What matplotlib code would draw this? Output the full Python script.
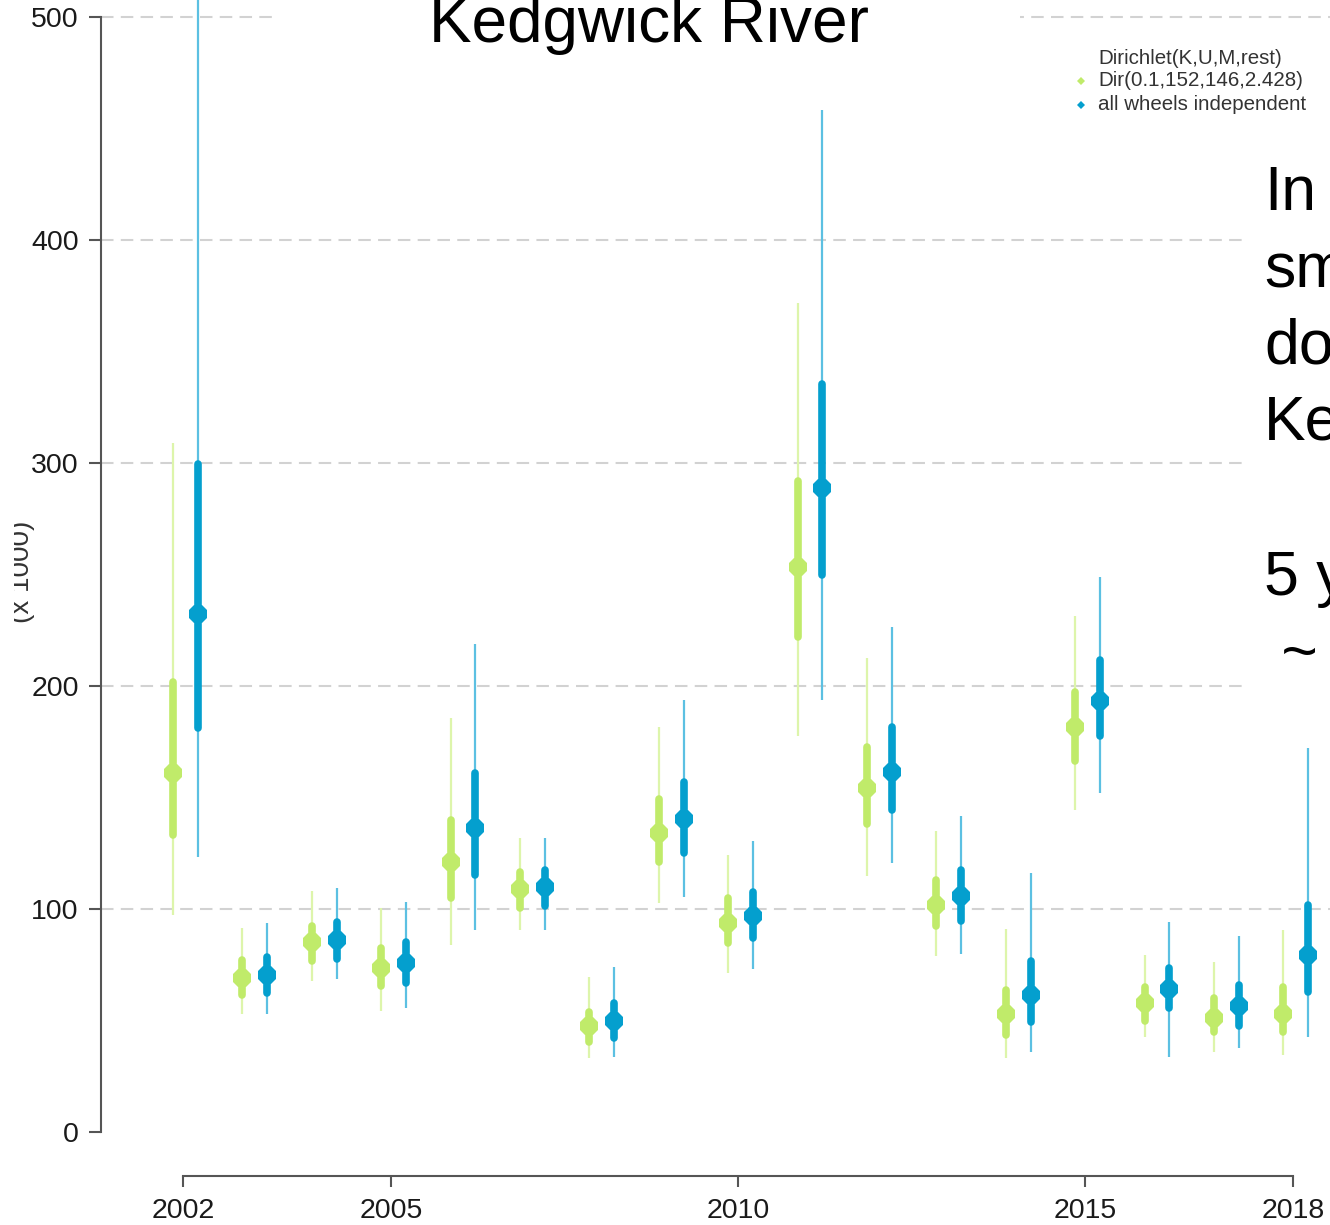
import matplotlib
matplotlib.use("Agg")
import matplotlib.pyplot as plt
from matplotlib.patches import Rectangle

plt.rcParams["font.family"] = ["Liberation Sans", "DejaVu Sans"]

# ---- data (thousands of fish) -------------------------------------------
years = list(range(2002, 2019))

# Dirichlet prior Dir(0.1,152,146,2.428): median, inner and outer intervals
dir_med = [161.0, 69.0, 85.2, 73.5, 121.0, 109.1, 47.5, 134.0, 93.7, 253.3,
           154.3, 102.0, 52.7, 181.5, 57.8, 51.0, 52.9]
dir_in_lo = [133.2, 61.4, 76.7, 65.5, 104.9, 100.4, 40.4, 121.0, 84.8, 222.0,
             138.0, 92.2, 43.4, 166.4, 50.0, 44.8, 44.8]
dir_in_hi = [201.8, 77.0, 92.4, 82.5, 139.9, 116.8, 53.8, 149.3, 104.9, 292.1,
             172.7, 113.1, 63.9, 197.5, 65.0, 60.0, 65.0]
dir_out_lo = [97.3, 53.0, 67.7, 54.3, 84.0, 90.8, 33.2, 102.7, 71.3, 177.4,
              115.0, 79.0, 33.3, 144.5, 42.6, 35.9, 34.5]
dir_out_hi = [309.0, 91.5, 108.0, 100.4, 185.8, 131.7, 69.5, 181.6, 124.2, 371.7,
              212.4, 135.1, 91.0, 231.3, 79.4, 76.2, 90.6]

# all wheels independent: median, inner and outer intervals
ind_med = [232.3, 70.4, 86.1, 75.8, 136.2, 109.7, 49.8, 140.4, 96.9, 289.0,
           161.6, 105.7, 61.6, 193.4, 64.0, 56.5, 79.4]
ind_in_lo = [181.2, 62.3, 77.6, 66.8, 115.4, 101.2, 42.2, 125.0, 87.0, 249.6,
             144.5, 94.8, 49.4, 177.8, 55.6, 47.5, 62.8]
ind_in_hi = [299.6, 78.5, 94.2, 85.2, 160.8, 117.6, 57.8, 157.0, 107.6, 335.5,
             181.7, 117.6, 76.6, 211.6, 73.5, 66.0, 101.8]
ind_out_lo = [123.3, 53.0, 68.6, 55.6, 90.8, 90.8, 33.6, 105.4, 73.0, 193.8,
              120.5, 79.9, 36.0, 151.9, 33.5, 37.7, 42.6]
ind_out_hi = [560.0, 93.7, 109.4, 103.0, 218.9, 131.7, 74.0, 193.7, 130.5, 458.3,
              226.4, 141.9, 116.1, 248.7, 94.2, 87.9, 172.2]

x_ticks = [2002, 2005, 2010, 2015, 2018]
y_ticks = [0, 100, 200, 300, 400, 500]
legend_title = "Dirichlet(K,U,M,rest)"
legend_labels = ["Dir(0.1,152,146,2.428)", "all wheels independent"]

# ---- styling -------------------------------------------------------------
GREEN, GREEN_LIGHT = "#c0eb6a", "#ddf5ab"
BLUE, BLUE_LIGHT = "#049fce", "#5cc0e2"
AXIS_COL = "#555555"
W, H = 1330, 1225

fig = plt.figure(figsize=(W / 100, H / 100), dpi=100)
ax = fig.add_axes([101 / W, 1 - 1176 / H, (W - 101) / W, 1176 / H])
ax.set_xlim(2002 - 82 / 69.4, 2002 + (W - 183) / 69.4)
ax.set_ylim((1132 - 1176) / 2.23, 1132 / 2.23)

# dashed horizontal grid
ax.hlines(y_ticks[1:], *ax.get_xlim(), colors="#d2d2d2", linewidth=1.5,
          linestyles=(0, (6, 3.5)), zorder=0)


def draw_series(xs, med, in_lo, in_hi, out_lo, out_hi, col, col_light):
    ax.vlines(xs, out_lo, out_hi, colors=col_light, linewidth=1.6, zorder=2)
    thick = ax.vlines(xs, in_lo, in_hi, colors=col, linewidth=5.5, zorder=3)
    thick.set_capstyle("round")
    ax.plot(xs, med, linestyle="none", marker="8", markersize=14,
            color=col, markeredgewidth=0, zorder=4)


draw_series([y - 0.145 for y in years], dir_med, dir_in_lo, dir_in_hi,
            dir_out_lo, dir_out_hi, GREEN, GREEN_LIGHT)
draw_series([y + 0.213 for y in years], ind_med, ind_in_lo, ind_in_hi,
            ind_out_lo, ind_out_hi, BLUE, BLUE_LIGHT)

# R-style detached axes
for side in ("top", "right"):
    ax.spines[side].set_visible(False)
for side in ("left", "bottom"):
    ax.spines[side].set_color(AXIS_COL)
    ax.spines[side].set_linewidth(1.5)
ax.spines["left"].set_bounds(0, 500)
ax.spines["bottom"].set_bounds(2002, 2018)
ax.set_xticks(x_ticks)
ax.set_yticks(y_ticks)
ax.tick_params(axis="both", colors=AXIS_COL, width=1.5, labelsize=20.5,
               labelcolor="#1a1a1a")
ax.tick_params(axis="y", length=8.5, pad=7.5)
ax.tick_params(axis="x", length=8, pad=8)

# axis title, clipped at the left edge of the plot device
fig.text(35 / W, 1 - 572 / H, "(x 1000)", rotation=90, ha="right", va="center",
         fontsize=20, color="#333333", zorder=3)
fig.add_artist(Rectangle((0, 0), 14 / W, 1, transform=fig.transFigure,
                         facecolor="white", edgecolor="none", zorder=4))

# legend
fig.text(1098 / W, 1 - 58 / H, legend_title, ha="left", va="center",
         fontsize=14.8, color="#333333")
for i, (lab, col) in enumerate(zip(legend_labels, [GREEN, BLUE])):
    yy = 1 - (81 + 24 * i) / H
    fig.text(1098 / W, yy, lab, ha="left", va="center", fontsize=14.8,
             color="#333333")
    ax.plot([1081 / W], [yy], transform=fig.transFigure, marker="D",
            markersize=4.5, color=col, markeredgewidth=0, clip_on=False)

# slide title and side text boxes
fig.add_artist(Rectangle((278 / W, 1 - 55 / H), (1020 - 278) / W, 55 / H,
                         transform=fig.transFigure, facecolor="white",
                         edgecolor="none", zorder=2))
fig.text(649 / W, 1 - 42 / H, "Kedgwick River", ha="center", va="baseline",
         fontsize=46, color="black", zorder=3)

fig.add_artist(Rectangle((1245 / W, 1 - 700 / H), (W - 1245) / W, 560 / H,
                         transform=fig.transFigure, facecolor="white",
                         edgecolor="none", zorder=2))
side_lines = [("In", 210), ("sm", 287), ("do", 363), ("Ke", 440),
              ("5 y", 595), (" ~", 672)]
for txt, base in side_lines:
    fig.text(1264 / W, 1 - base / H, txt, ha="left", va="baseline",
             fontsize=45, color="black", zorder=3)

fig.savefig("out.png", dpi=100, facecolor="white")
